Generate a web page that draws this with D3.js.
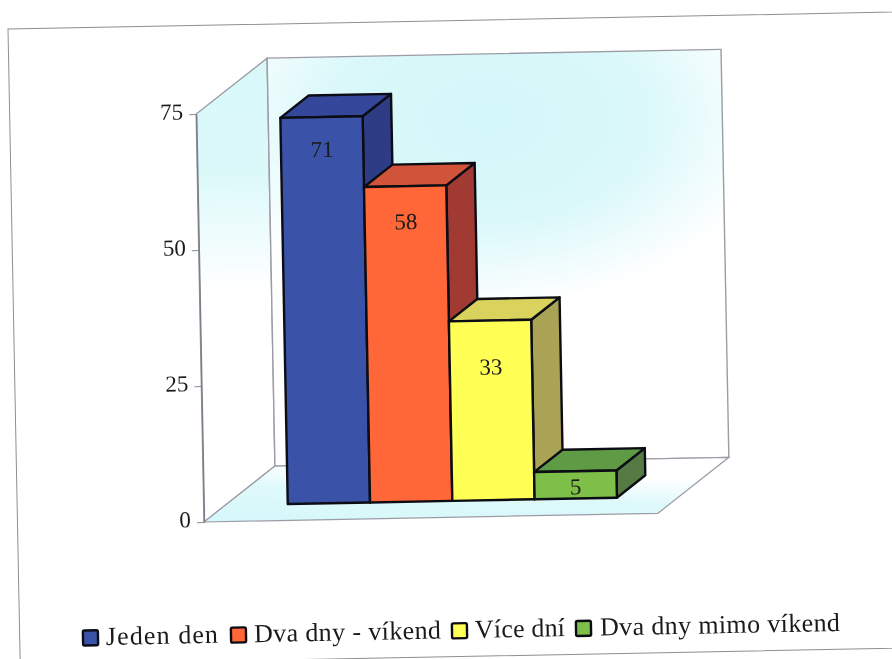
<!DOCTYPE html>
<html><head><meta charset="utf-8">
<script src="https://cdn.jsdelivr.net/npm/d3@7/dist/d3.min.js"></script>
<style>html,body{margin:0;padding:0;background:#fff}svg{display:block;filter:blur(.45px)}
text{font-family:"Liberation Serif",serif;fill:#1a1a1a}</style></head><body>
<script>
const categories = ["Jeden den", "Dva dny - víkend", "Více dní", "Dva dny mimo víkend"];
const values = [71, 58, 33, 5];
const yTicks = [0, 25, 50, 75];
const frontColors = ["#3a53a9", "#ff6638", "#ffff55", "#7dbf48"];
const topColors = ["#34479b", "#d0533a", "#d9d25c", "#5f9a44"];
const sideColors = ["#2e3c85", "#a03a33", "#aaa356", "#567a44"];
const labelDrops = [32, 35, 46, 15];
const legendSwatchX = [83, 231, 452, 576];
const legendTextX = [106, 254, 475, 600];
const legendTextW = [112, 187, 90, 240];

const W = 892, H = 659, ox = 204, oy = 522, angle = -1.1;
const plotW = 454, plotH = 408, depthX = 72, depthY = 54.6;
const svg = d3.select("body").append("svg").attr("width", W).attr("height", H);
const defs = svg.append("defs");

const wallGrad = defs.append("radialGradient").attr("id", "wall").attr("cx", 0).attr("cy", 0).attr("r", 1)
  .attr("gradientTransform", "translate(.48,.16) scale(.64,.46)");
[[0, "#d4f7f9"], [.55, "#daf8fa"], [.8, "#effcfd"], [1, "#ffffff"]].forEach(s => wallGrad.append("stop").attr("offset", s[0]).attr("stop-color", s[1]));
const sideGrad = defs.append("linearGradient").attr("id", "side").attr("x1", 0).attr("y1", 0).attr("x2", 0).attr("y2", 1);
[[0, "#d8f8fa"], [.25, "#dcf9fa"], [.5, "#ffffff"]].forEach(s => sideGrad.append("stop").attr("offset", s[0]).attr("stop-color", s[1]));
const floorGrad = defs.append("linearGradient").attr("id", "floor").attr("x1", 0).attr("y1", 1).attr("x2", .6).attr("y2", 0);
[[0, "#d5f8fa"], [.5, "#def9fb"], [.85, "#ffffff"]].forEach(s => floorGrad.append("stop").attr("offset", s[0]).attr("stop-color", s[1]));

const root = svg.append("g").attr("transform", `rotate(${angle},${ox},${oy})`);

// frame
root.append("rect").attr("x", 17.5).attr("y", 25.4).attr("width", 1000).attr("height", 636)
  .attr("fill", "#fff").attr("stroke", "#8f8f8f").attr("stroke-width", 1);

const yScale = d3.scaleLinear().domain([0, 75]).range([oy, oy - plotH]);
const xScale = d3.scaleBand().domain(categories).range([ox, ox + plotW]).paddingInner(0).paddingOuter(.758);
const poly = pts => pts.map(p => p.join(",")).join(" ");
const wallStroke = "#9c9ca6";
const x0 = ox, x1 = ox + plotW, yb = yScale(0), yt = yScale(75);

root.append("polygon").attr("points", poly([[x0, yb], [x0 + depthX, yb - depthY], [x0 + depthX, yt - depthY], [x0, yt]]))
  .attr("fill", "url(#side)").attr("stroke", wallStroke).attr("stroke-width", 1.4);
root.append("polygon").attr("points", poly([[x0 + depthX, yb - depthY], [x1 + depthX, yb - depthY], [x1 + depthX, yt - depthY], [x0 + depthX, yt - depthY]]))
  .attr("fill", "url(#wall)").attr("stroke", wallStroke).attr("stroke-width", 1.4);
root.append("polygon").attr("points", poly([[x0, yb], [x1, yb], [x1 + depthX, yb - depthY], [x0 + depthX, yb - depthY]]))
  .attr("fill", "url(#floor)").attr("stroke", wallStroke).attr("stroke-width", 1.2);

// axis
const axis = root.append("g").attr("transform", `translate(${ox},0)`)
  .call(d3.axisLeft(yScale).tickValues(yTicks).tickSize(7).tickPadding(6).tickSizeOuter(0));
axis.select(".domain").attr("stroke", "#7e7e8a").attr("stroke-width", 1.5);
axis.selectAll(".tick line").attr("stroke", "#8a8a94");
axis.selectAll("text").attr("dy", "0.2em").style("font-family", '"Liberation Serif",serif').style("font-size", "23px").attr("fill", "#1a1a1a");

// bars
const dx0 = depthX * .3 + .1, dy0 = depthY * .3, bx = depthX * .4, by = depthY * .4;
const bars = root.selectAll("g.bar").data(values).join("g").attr("class", "bar");
const edge = s => s.attr("stroke", "#0c0c14").attr("stroke-width", 2.4).attr("stroke-linejoin", "round");
const lx = (d, i) => xScale(categories[i]) + dx0, rx = (d, i) => lx(d, i) + xScale.bandwidth();
const base = yb - dy0, barTop = d => yScale(d) - dy0;
bars.append("polygon").attr("points", (d, i) => poly([[rx(d, i), barTop(d)], [rx(d, i) + bx, barTop(d) - by], [rx(d, i) + bx, base - by], [rx(d, i), base]]))
  .attr("fill", (d, i) => sideColors[i]).call(edge);
bars.append("polygon").attr("points", (d, i) => poly([[lx(d, i), barTop(d)], [lx(d, i) + bx, barTop(d) - by], [rx(d, i) + bx, barTop(d) - by], [rx(d, i), barTop(d)]]))
  .attr("fill", (d, i) => topColors[i]).call(edge);
bars.append("polygon").attr("points", (d, i) => poly([[lx(d, i), barTop(d)], [rx(d, i), barTop(d)], [rx(d, i), base], [lx(d, i), base]]))
  .attr("fill", (d, i) => frontColors[i]).call(edge);
bars.append("text").attr("x", (d, i) => lx(d, i) + xScale.bandwidth() / 2).attr("y", (d, i) => barTop(d) + labelDrops[i])
  .attr("text-anchor", "middle").attr("dy", ".35em").style("font-size", "23px").text(d => d);

// legend (positions are given on the page, then brought into the tilted frame)
const unrot = (sx, sy) => {
  const a = -angle * Math.PI / 180, dx = sx - ox, dy = sy - oy;
  return [ox + dx * Math.cos(a) - dy * Math.sin(a), oy + dx * Math.sin(a) + dy * Math.cos(a)];
};
const legendY0 = 638, legendSlope = -0.0192;
const leg = root.selectAll("g.leg").data(categories).join("g").attr("class", "leg");
leg.each(function (c, i) {
  const g = d3.select(this);
  const sy = legendY0 + (legendSwatchX[i] - legendSwatchX[0]) * legendSlope;
  const p = unrot(legendSwatchX[i], sy);
  g.append("rect").attr("x", p[0]).attr("y", p[1] - 7.5).attr("width", 15).attr("height", 15).attr("rx", 1.5)
    .attr("fill", frontColors[i]).call(edge);
  const q = unrot(legendTextX[i], sy);
  g.append("text").attr("x", q[0]).attr("y", q[1] + 7).attr("textLength", legendTextW[i]).attr("lengthAdjust", "spacing")
    .style("font-size", "26px").text(c);
});
</script></body></html>
